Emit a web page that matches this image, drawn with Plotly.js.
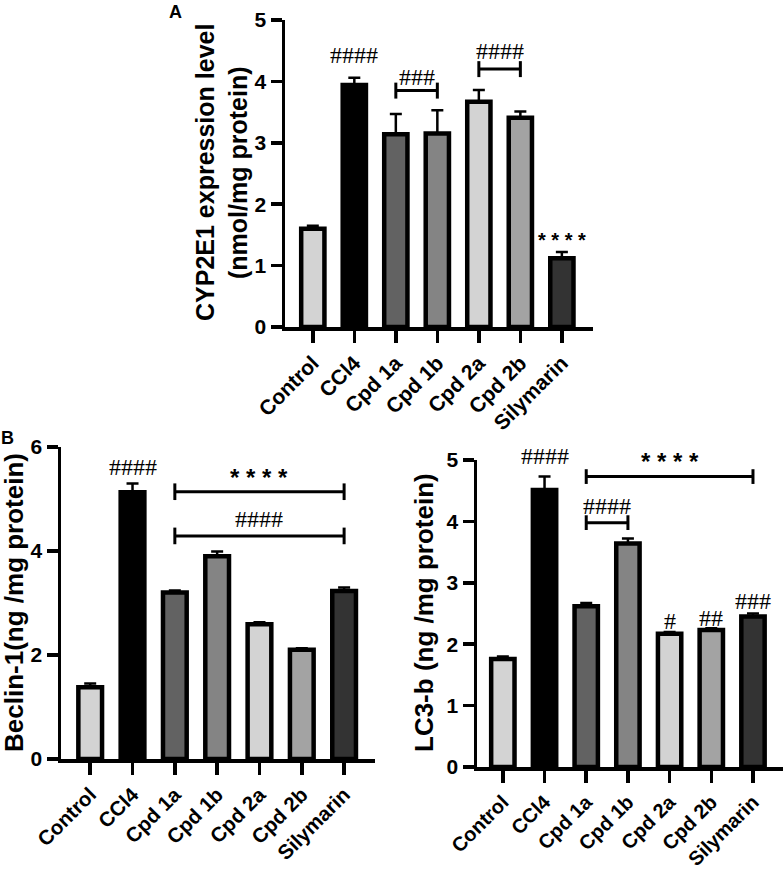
<!DOCTYPE html>
<html><head><meta charset="utf-8">
<script src="https://cdn.plot.ly/plotly-3.0.1.min.js"></script>
<style>html,body{margin:0;padding:0;background:#fff}#plot{width:784px;height:870px}</style>
</head><body><div id="plot"></div>
<script>
// ---- data ----
const categories = ["Control","CCl4","Cpd 1a","Cpd 1b","Cpd 2a","Cpd 2b","Silymarin"];
const barColors = ["#d3d3d3","#000000","#626262","#848484","#d3d3d3","#a3a3a3","#333333"];

const cyp2e1 = [1.60, 3.94, 3.14, 3.15, 3.67, 3.41, 1.12];
const cyp2e1Err = [0.05, 0.12, 0.33, 0.38, 0.19, 0.10, 0.10];

const beclin1 = [1.38, 5.13, 3.20, 3.90, 2.59, 2.10, 3.23];
const beclin1Err = [0.07, 0.17, 0.04, 0.09, 0.04, 0.03, 0.07];

const lc3b = [1.76, 4.51, 2.62, 3.64, 2.17, 2.23, 2.45];
const lc3bErr = [0.04, 0.22, 0.05, 0.08, 0.03, 0.03, 0.05];

// significance marks: [categoryIndex, y, text]
const sigA = [[1, 4.43, "####"], [6, 1.42, "****"]];
// brackets: [fromIndex, toIndex, y, text, textY]
const bracketsA = [[2, 3, 3.85, "###", 4.07], [4, 5, 4.20, "####", 4.50]];
const sigB1 = [[1, 5.62, "####"]];
const bracketsB1 = [[2, 6, 5.14, "****", 5.42], [2, 6, 4.29, "####", 4.62]];
const sigB2 = [[1, 5.07, "####"], [4, 2.37, "#"], [5, 2.43, "##"], [6, 2.70, "###"]];
const bracketsB2 = [[2, 6, 4.73, "****", 4.98], [2, 3, 3.98, "####", 4.25]];

// ---- layout helpers ----
const W = 784, H = 870;
const px = x => x / W, py = y => 1 - y / H;
const SANS = "Liberation Sans, Arial, sans-serif";
const SERIF = "Liberation Serif, Times New Roman, serif";

function barTrace(vals, errs, xa, ya) {
  return {
    type: "bar", x: categories, y: vals, xaxis: xa, yaxis: ya, width: 0.56,
    marker: {color: barColors, line: {color: "#000", width: 4.5}},
    error_y: {type: "data", array: errs, arrayminus: errs.map(() => 0), symmetric: false,
              color: "#000", thickness: 2.5, width: 6},
    showlegend: false, cliponaxis: false, hoverinfo: "skip"
  };
}
const data = [
  barTrace(cyp2e1, cyp2e1Err, "x", "y"),
  barTrace(beclin1, beclin1Err, "x2", "y2"),
  barTrace(lc3b, lc3bErr, "x3", "y3")
];

function xaxisDef(domain, range, anchor, fs) {
  return {domain, range, anchor, type: "category", showgrid: false, zeroline: false,
    showline: true, linecolor: "#000", linewidth: 3.5, ticks: "outside", ticklen: 12,
    tickwidth: 3.5, tickcolor: "#000", tickangle: -45,
    tickfont: {family: SANS, size: fs, color: "#000", weight: 700}, fixedrange: true};
}
function yaxisDef(domain, range, dtick, anchor) {
  return {domain, range, anchor, showgrid: false, zeroline: false, showline: true,
    linecolor: "#000", linewidth: 3.5, ticks: "outside", ticklen: 11, tickwidth: 3.5,
    tickcolor: "#000", dtick, tick0: 0,
    tickfont: {family: SANS, size: 21, color: "#000", weight: 700}, fixedrange: true};
}
const yPx = {y: 61.4, y2: 52, y3: 61.4};   // pixels per unit, for labels above the axis top
const yMax = {y: 5, y2: 6, y3: 5};

const shapes = [], annotations = [];
function addText(xr, yr, x, y, t, font) {
  const over = Math.max(0, y - yMax[yr]);
  annotations.push({xref: xr, yref: yr, x, y: y - over, yshift: over * yPx[yr], text: t,
    showarrow: false, xanchor: "center", yanchor: "middle", font});
}
const hashFont = {family: SERIF, size: 24, color: "#000"};
const starFontA = {family: SANS, size: 20, color: "#000", weight: 700};
const starFontB = {family: SANS, size: 24, color: "#000", weight: 700};
function fontFor(t, starFont) { return t.includes("*") ? starFont : hashFont; }
function starText(t) { return t.includes("*") ? t.split("").join(" ") : t; }

function addSig(list, xr, yr, starFont) {
  list.forEach(([i, y, t]) => addText(xr, yr, i, y, starText(t), fontFor(t, starFont)));
}
function addBrackets(list, xr, yr, half, starFont) {
  list.forEach(([a, b, y, t, ty]) => {
    const lw = {color: "#000", width: 3};
    shapes.push({type: "line", xref: xr, yref: yr, x0: a, x1: b, y0: y, y1: y, line: lw});
    shapes.push({type: "line", xref: xr, yref: yr, x0: a, x1: a, y0: y - half, y1: y + half, line: lw});
    shapes.push({type: "line", xref: xr, yref: yr, x0: b, x1: b, y0: y - half, y1: y + half, line: lw});
    addText(xr, yr, (a + b) / 2, ty, starText(t), fontFor(t, starFont));
  });
}
addSig(sigA, "x", "y", starFontA);
addBrackets(bracketsA, "x", "y", 0.13, starFontA);
addSig(sigB1, "x2", "y2", starFontB);
addBrackets(bracketsB1, "x2", "y2", 0.16, starFontB);
addSig(sigB2, "x3", "y3", starFontB);
addBrackets(bracketsB2, "x3", "y3", 0.12, starFontB);

// axis titles and panel letters
[[205, 173, "CYP2E1 expression level", 25], [238, 173, "(nmol/mg protein)", 25],
 [14, 603, "Beclin-1(ng /mg protein)", 26], [424, 613, "LC3-b (ng /mg protein)", 26]].forEach(([x, y, t, s]) =>
  annotations.push({xref: "paper", yref: "paper", x: px(x), y: py(y), text: t, textangle: -90,
    showarrow: false, xanchor: "center", yanchor: "middle",
    font: {family: SANS, size: s, color: "#000", weight: 700}}));
[[175, 12, "A"], [8, 438, "B"]].forEach(([x, y, t]) =>
  annotations.push({xref: "paper", yref: "paper", x: px(x), y: py(y), text: t, showarrow: false,
    xanchor: "center", yanchor: "middle", font: {family: SANS, size: 18, color: "#000", weight: 700}}));

const layout = {
  width: W, height: H, margin: {l: 0, r: 0, t: 0, b: 0},
  paper_bgcolor: "#fff", plot_bgcolor: "#fff",
  xaxis: xaxisDef([px(285), px(593)], [-0.67, 6.75], "y", 21),
  yaxis: yaxisDef([py(327), py(20)], [0, 5], 1, "x"),
  xaxis2: xaxisDef([px(61), px(375)], [-0.69, 6.73], "y2", 20.5),
  yaxis2: yaxisDef([py(759), py(447)], [0, 6], 2, "x2"),
  xaxis3: xaxisDef([px(477), px(783)], [-0.62, 6.72], "y3", 20),
  yaxis3: yaxisDef([py(767), py(460)], [0, 5], 1, "x3"),
  shapes, annotations
};
Plotly.newPlot("plot", data, layout, {displayModeBar: false, staticPlot: true});
</script></body></html>
